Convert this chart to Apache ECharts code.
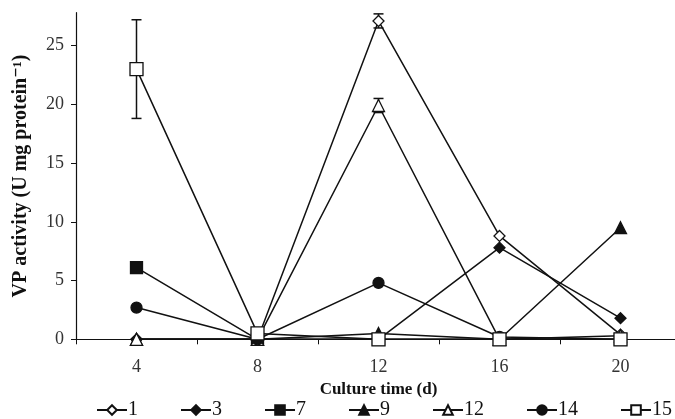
<!DOCTYPE html>
<html>
<head>
<meta charset="utf-8">
<script src="https://cdn.jsdelivr.net/npm/echarts@6/dist/echarts.min.js"></script>
<style>
  html, body { margin: 0; padding: 0; background: #fff; }
  #chart { width: 675px; height: 419px; }
</style>
</head>
<body>
<div id="chart"></div>
<script>
// Culture time (days)
const days = ['4', '8', '12', '16', '20'];

// VP activity per strain, one value per culture day
const s1  = [0,    0,   27.1, 8.8, 0.4];
const s3  = [0,    0,   0,    7.8, 1.8];
const s7  = [6.1,  0,   0,    0,   0];
const s9  = [0,    0,   0.5,  0,   9.5];
const s12 = [0,    0,   19.9, 0,   0.3];
const s14 = [2.7,  0,   4.8,  0.2, 0];
const s15 = [23.0, 0.5, 0,    0,   0];

// Y tick labels
const yTicks = [0, 5, 10, 15, 20, 25];

// Error bars: [day index, lower, upper]
const errBars = [
  [0, 18.8, 27.2],
  [2, 26.5, 27.7],
  [2, 19.3, 20.5]
];

const serif = '"Liberation Serif", "DejaVu Serif", serif';
const ink = '#111';

function lineSeries(name, data, symbol, filled, size) {
  return {
    name: name,
    type: 'line',
    data: data,
    symbol: symbol,
    symbolSize: size,
    showAllSymbol: true,
    lineStyle: { color: ink, width: 1.5 },
    itemStyle: {
      color: filled ? ink : '#fff',
      borderColor: ink,
      borderWidth: 1.3
    },
    emphasis: { disabled: true },
    animation: false
  };
}

const errorSeries = {
  type: 'custom',
  data: errBars,
  z: 1,
  animation: false,
  silent: true,
  renderItem: function (params, api) {
    const x = api.value(0);
    const lo = api.coord([x, api.value(1)]);
    const hi = api.coord([x, api.value(2)]);
    const cap = 5;
    const st = { stroke: ink, lineWidth: 1.5 };
    return {
      type: 'group',
      children: [
        { type: 'line', shape: { x1: lo[0], y1: lo[1], x2: hi[0], y2: hi[1] }, style: st },
        { type: 'line', shape: { x1: hi[0] - cap, y1: hi[1], x2: hi[0] + cap, y2: hi[1] }, style: st },
        { type: 'line', shape: { x1: lo[0] - cap, y1: lo[1], x2: lo[0] + cap, y2: lo[1] }, style: st }
      ]
    };
  }
};

const chart = echarts.init(document.getElementById('chart'));
chart.setOption({
  animation: false,
  backgroundColor: '#fff',
  grid: { left: 76, top: 12.7, bottom: 79.7, right: -6, outerBoundsMode: 'none', containLabel: false },
  xAxis: {
    type: 'category',
    data: days,
    boundaryGap: true,
    name: 'Culture time (d)',
    nameLocation: 'middle',
    nameGap: 42,
    nameTextStyle: { fontFamily: serif, fontWeight: 'bold', fontSize: 17, color: ink },
    axisLine: { lineStyle: { color: ink, width: 1.2 } },
    axisTick: { show: true, interval: 0, length: 5, lineStyle: { color: ink } },
    axisLabel: { fontFamily: serif, fontSize: 18, color: '#333', margin: 19 },
    splitLine: { show: false }
  },
  yAxis: {
    type: 'value',
    min: 0,
    max: 27.8,
    interval: 5,
    name: 'VP activity (U mg protein\u207B\u00B9)',
    nameLocation: 'middle',
    nameRotate: 90,
    nameGap: 45,
    nameTextStyle: { fontFamily: serif, fontWeight: 'bold', fontSize: 20, color: ink },
    axisLine: { show: true, lineStyle: { color: ink, width: 1.2 } },
    axisTick: { show: true, length: 5, lineStyle: { color: ink }, customValues: yTicks },
    axisLabel: { fontFamily: serif, fontSize: 18, color: '#333', margin: 12, customValues: yTicks },
    splitLine: { show: false }
  },
  legend: {
    bottom: -6,
    left: 91,
    width: 640,
    itemGap: 42,
    itemWidth: 30,
    itemHeight: 12,
    textStyle: { fontFamily: serif, fontSize: 20, color: ink, padding: [0, 0, 0, -4] },
    data: ['1', '3', '7', '9', '12', '14', '15']
  },
  series: [
    errorSeries,
    lineSeries('1',  s1,  'diamond',  false, 11),
    lineSeries('3',  s3,  'diamond',  true,  11),
    lineSeries('7',  s7,  'rect',     true,  12),
    lineSeries('9',  s9,  'triangle', true,  12),
    lineSeries('12', s12, 'triangle', false, 12),
    lineSeries('14', s14, 'circle',   true,  11),
    lineSeries('15', s15, 'rect',     false, 13)
  ]
});
</script>
</body>
</html>
